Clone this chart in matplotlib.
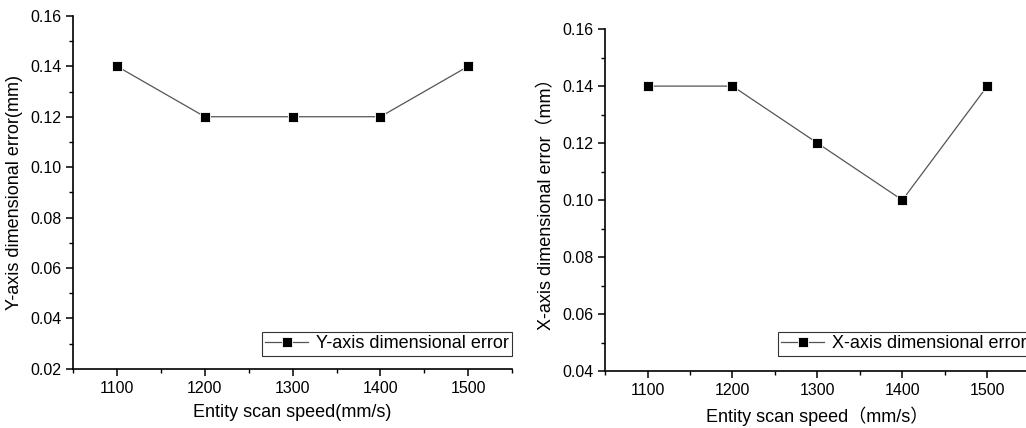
import matplotlib
matplotlib.use('Agg')
import matplotlib.pyplot as plt
from matplotlib.ticker import MultipleLocator

speed = [1100, 1200, 1300, 1400, 1500]
y_err = [0.14, 0.12, 0.12, 0.12, 0.14]
x_err = [0.14, 0.14, 0.12, 0.10, 0.14]

plt.rcParams['font.family'] = ['Liberation Sans', 'Noto Sans CJK SC', 'DejaVu Sans']

fig = plt.figure(figsize=(10.26, 4.28), dpi=100)
ax1 = fig.add_axes([0.0712, 0.138, 0.428, 0.825])
ax2 = fig.add_axes([0.5897, 0.133, 0.414, 0.799])


def style(ax, ylim, ylabel, xlabel, data, label, leg_y):
    ax.plot(speed, data, color='#555555', lw=0.9, marker='s', ms=7,
            markerfacecolor='black', markeredgecolor='white', markeredgewidth=0.6,
            label=label)
    ax.set_xlim(1050, 1550)
    ax.set_ylim(*ylim)
    ax.set_xticks(speed)
    ax.xaxis.set_minor_locator(MultipleLocator(50))
    ax.yaxis.set_major_locator(MultipleLocator(0.02))
    ax.yaxis.set_minor_locator(MultipleLocator(0.01))
    ax.yaxis.set_major_formatter(plt.FormatStrFormatter('%.2f'))
    for s in ['top', 'right']:
        ax.spines[s].set_visible(False)
    for s in ['left', 'bottom']:
        ax.spines[s].set_linewidth(1.2)
    ax.tick_params(which='major', direction='out', length=5, width=1.1, labelsize=11.5)
    ax.tick_params(which='minor', direction='out', length=3, width=1.0)
    ax.set_xlabel(xlabel, fontsize=13, labelpad=6)
    ax.set_ylabel(ylabel, fontsize=13, labelpad=5)
    leg = ax.legend(loc='lower right', bbox_to_anchor=(1.0, leg_y), fontsize=13,
                    frameon=True, fancybox=False, borderaxespad=0.0,
                    handlelength=2.4, borderpad=0.2, handletextpad=0.4)
    leg.get_frame().set_edgecolor('black')
    leg.get_frame().set_linewidth(0.8)


style(ax1, (0.02, 0.16), 'Y-axis dimensional error(mm)',
      'Entity scan speed(mm/s)', y_err, 'Y-axis dimensional error', 0.037)
style(ax2, (0.04, 0.16), 'X-axis dimensional error（mm）',
      'Entity scan speed（mm/s）', x_err, 'X-axis dimensional error', 0.044)

fig.savefig('out.png', dpi=100)
